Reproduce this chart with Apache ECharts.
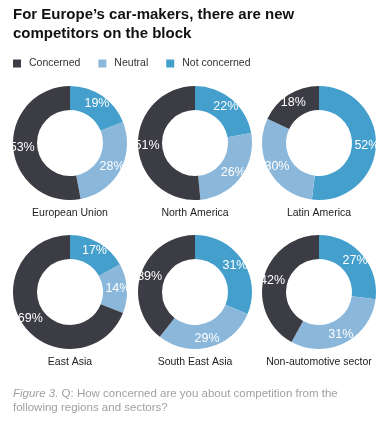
<!DOCTYPE html>
<html><head><meta charset="utf-8">
<script src="https://cdn.jsdelivr.net/npm/echarts@6/dist/echarts.min.js"></script>
<style>html,body{margin:0;padding:0;background:#fff}#c{width:387px;height:435px}</style>
</head><body><div id="c"></div>
<script>
const categories = ['Concerned', 'Neutral', 'Not concerned'];
const regions = ['European Union', 'North America', 'Latin America', 'East Asia', 'South East Asia', 'Non-automotive sector'];
const concerned = [53, 51, 18, 69, 39, 42];
const neutral = [28, 26, 30, 14, 29, 31];
const notConcerned = [19, 22, 52, 17, 31, 27];
const colors = { 'Concerned': '#3c3c44', 'Neutral': '#8ab7da', 'Not concerned': '#449fcc' };

const FONT = 'Liberation Sans';
const cx = [70, 195, 319];
const cy = [143, 292];
const series = [];
const titles = [
  { text: 'For Europe\u2019s car-makers, there are new\ncompetitors on the block', left: 13, top: 5, padding: 0,
    textStyle: { fontFamily: FONT, fontSize: 15, fontWeight: 'bold', color: '#111', lineHeight: 19 } },
  { text: '{i|Figure 3.} Q: How concerned are you about competition from the\nfollowing regions and sectors?', left: 13, top: 387, padding: 0,
    textStyle: { fontFamily: FONT, fontSize: 11.5, fontWeight: 'normal', color: '#a0a0a0', lineHeight: 14,
      rich: { i: { fontFamily: FONT, fontStyle: 'italic', fontSize: 11.5, color: '#a0a0a0' } } } }
];
regions.forEach((r, i) => {
  const x = cx[i % 3], y = cy[Math.floor(i / 3)];
  series.push({
    type: 'pie', name: r, center: [x, y], radius: [33, 57], startAngle: 90, clockwise: true,
    avoidLabelOverlap: false, silent: true,
    label: { show: true, position: 'inside', formatter: '{c}%', color: '#fff', fontFamily: FONT, fontSize: 12.5 },
    labelLine: { show: false },
    itemStyle: { borderWidth: 0 },
    data: [
      { name: 'Not concerned', value: notConcerned[i], itemStyle: { color: colors['Not concerned'] } },
      { name: 'Neutral', value: neutral[i], itemStyle: { color: colors['Neutral'] } },
      { name: 'Concerned', value: concerned[i], itemStyle: { color: colors['Concerned'] } }
    ]
  });
  titles.push({ text: r, left: x, top: y + 65, textAlign: 'center', padding: 0,
    textStyle: { fontFamily: FONT, fontSize: 10.5, fontWeight: 'normal', color: '#222' } });
});

const chart = echarts.init(document.getElementById('c'), null, { renderer: 'canvas' });
chart.setOption({
  animation: false,
  title: titles,
  legend: {
    data: categories, left: 13, top: 58, padding: 0, icon: 'rect', itemWidth: 8, itemHeight: 8, itemGap: 18,
    textStyle: { fontFamily: FONT, fontSize: 10.5, color: '#333', padding: [0, 0, 0, 3] }, selectedMode: false
  },
  color: categories.map(c => colors[c]),
  series: series
});
</script></body></html>
